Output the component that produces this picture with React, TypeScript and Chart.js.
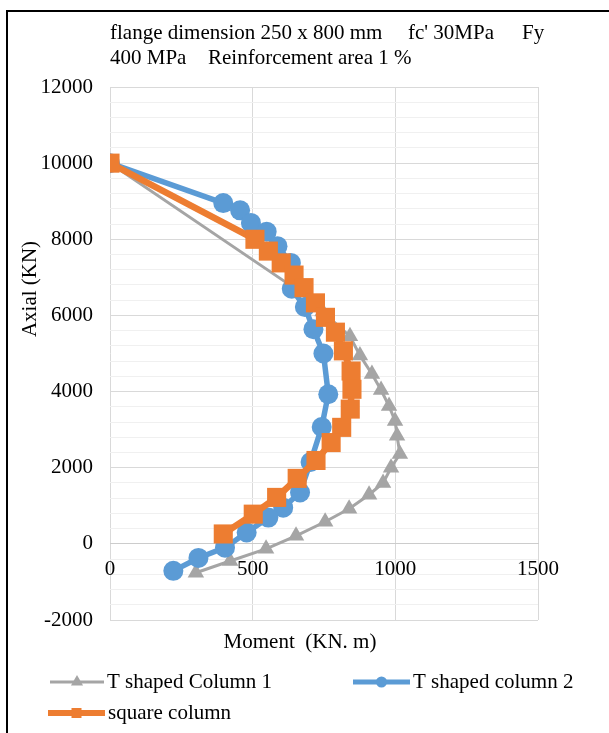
import React, { useEffect, useRef } from "react";
import { Chart, registerables } from "chart.js";

Chart.register(...registerables);

const FONT = '"Liberation Serif", "Times New Roman", serif';

const titleLine1 = ["flange dimension 250 x 800 mm", "fc' 30MPa", "Fy"];
const titleLine2 = ["400 MPa", "Reinforcement area 1 %"];
const xAxisTitle = "Moment  (KN. m)";
const yAxisTitle = "Axial (KN)";

const seriesNames = ["T shaped Column 1", "T shaped column 2", "square column"];
const seriesColors = ["#A5A5A5", "#5B9BD5", "#ED7D31"];

const grayMoment = [0, 640, 745, 841, 876, 918, 950, 978, 999, 1006, 1016, 985, 957, 908, 838, 754, 652, 547, 421, 301];
const grayAxial = [10000, 6750, 6100, 5450, 4950, 4460, 4040, 3620, 3230, 2840, 2360, 2000, 1600, 1290, 920, 580, 210, -130, -450, -760];

const blueMoment = [0, 397, 456, 494, 549, 587, 634, 637, 683, 713, 748, 765, 742, 703, 666, 607, 555, 479, 403, 310, 222];
const blueAxial = [10000, 8950, 8760, 8430, 8200, 7820, 7380, 6700, 6220, 5640, 5000, 3930, 3070, 2150, 1350, 950, 690, 300, -100, -370, -709];

const orangeMoment = [0, 508, 555, 600, 645, 680, 720, 755, 790, 818, 845, 848, 842, 812, 775, 722, 656, 584, 502, 397];
const orangeAxial = [10000, 8000, 7690, 7380, 7060, 6730, 6330, 5950, 5560, 5070, 4540, 4060, 3540, 3060, 2660, 2190, 1720, 1220, 780, 260];

const xMin = 0, xMax = 1500, xStep = 500;
const yMin = -2000, yMax = 12000, yMajor = 2000, yMinor = 400;

const toPoints = (xs: number[], ys: number[]) => xs.map((x, i) => ({ x, y: ys[i] }));

const decorPlugin = {
  id: "decor",
  beforeDraw(chart: any) {
    const ctx = chart.ctx;
    ctx.save();
    ctx.fillStyle = "#ffffff";
    ctx.fillRect(0, 0, chart.width, chart.height);
    ctx.restore();
  },
  afterDraw(chart: any) {
    const ctx = chart.ctx;
    ctx.save();
    // frame
    ctx.strokeStyle = "#000000";
    ctx.lineWidth = 2;
    ctx.beginPath();
    ctx.moveTo(7, chart.height);
    ctx.lineTo(7, 11);
    ctx.lineTo(chart.width, 11);
    ctx.stroke();

    ctx.fillStyle = "#000000";
    ctx.font = `21px ${FONT}`;
    ctx.textBaseline = "middle";
    ctx.textAlign = "left";
    // title
    ctx.fillText(titleLine1[0], 110, 33);
    ctx.fillText(titleLine1[1], 408, 33);
    ctx.fillText(titleLine1[2], 522, 33);
    ctx.fillText(titleLine2[0], 110, 58);
    ctx.fillText(titleLine2[1], 208, 58);

    // x axis title
    ctx.textAlign = "center";
    ctx.fillText(xAxisTitle, 300, 642);

    // y axis title
    ctx.save();
    ctx.translate(30, 289);
    ctx.rotate(-Math.PI / 2);
    ctx.fillText(yAxisTitle, 0, 0);
    ctx.restore();

    // legend
    const drawLegend = (i: number, x0: number, x1: number, y: number, lw: number, style: string, r: number, tx: number) => {
      ctx.strokeStyle = seriesColors[i];
      ctx.fillStyle = seriesColors[i];
      ctx.lineWidth = lw;
      ctx.beginPath();
      ctx.moveTo(x0, y);
      ctx.lineTo(x1, y);
      ctx.stroke();
      const cx = (x0 + x1) / 2;
      ctx.beginPath();
      if (style === "triangle") {
        ctx.moveTo(cx, y - r);
        ctx.lineTo(cx + r * 0.866, y + r * 0.5);
        ctx.lineTo(cx - r * 0.866, y + r * 0.5);
        ctx.closePath();
      } else if (style === "circle") {
        ctx.arc(cx, y, r, 0, Math.PI * 2);
      } else {
        ctx.rect(cx - r, y - r, 2 * r, 2 * r);
      }
      ctx.fill();
      ctx.fillStyle = "#000000";
      ctx.textAlign = "left";
      ctx.fillText(seriesNames[i], tx, y);
    };
    drawLegend(0, 50, 104, 682, 3, "triangle", 7, 107);
    drawLegend(1, 353, 410, 682, 5, "circle", 5.5, 413);
    drawLegend(2, 48, 105, 713, 6, "rect", 5, 108);
    ctx.restore();
  },
};

export default function App() {
  const ref = useRef<HTMLCanvasElement | null>(null);

  useEffect(() => {
    if (!ref.current) return;
    const chart = new Chart(ref.current, {
      type: "scatter",
      data: {
        datasets: [
          {
            label: seriesNames[0],
            data: toPoints(grayMoment, grayAxial),
            showLine: true,
            borderColor: seriesColors[0],
            backgroundColor: seriesColors[0],
            pointBackgroundColor: seriesColors[0],
            pointBorderWidth: 0,
            borderWidth: 3,
            pointStyle: "triangle",
            pointRadius: 9.5,
            order: 2,
          },
          {
            label: seriesNames[1],
            data: toPoints(blueMoment, blueAxial),
            showLine: true,
            borderColor: seriesColors[1],
            backgroundColor: seriesColors[1],
            pointBackgroundColor: seriesColors[1],
            pointBorderWidth: 0,
            borderWidth: 5.5,
            pointStyle: "circle",
            pointRadius: 10,
            order: 1,
          },
          {
            label: seriesNames[2],
            data: toPoints(orangeMoment, orangeAxial),
            showLine: true,
            borderColor: seriesColors[2],
            backgroundColor: seriesColors[2],
            pointBackgroundColor: seriesColors[2],
            pointBorderWidth: 0,
            borderWidth: 6.5,
            pointStyle: "rect",
            pointRadius: 13.5,
            order: 0,
          },
        ],
      },
      options: {
        responsive: false,
        devicePixelRatio: 1,
        animation: false,
        events: [],
        layout: { padding: { top: 87, right: 71, bottom: 113, left: 0 } },
        plugins: {
          legend: { display: false },
          title: { display: false },
          tooltip: { enabled: false },
        },
        scales: {
          x: {
            type: "linear",
            min: xMin,
            max: xMax,
            position: { y: 0 } as any,
            ticks: {
              stepSize: xStep,
              color: "#000000",
              font: { family: FONT, size: 21 },
              padding: 13,
              maxRotation: 0,
              callback: (v: any) => String(v),
            },
            grid: { color: "#d9d9d9", lineWidth: 1, drawTicks: false },
            border: { display: true, color: "#cccccc", width: 1 },
          },
          y: {
            type: "linear",
            min: yMin,
            max: yMax,
            afterFit: (scale: any) => {
              scale.width = 110;
            },
            ticks: {
              stepSize: yMinor,
              autoSkip: false,
              color: "#000000",
              font: { family: FONT, size: 21 },
              padding: 17,
              callback: (v: any) => (Number(v) % yMajor === 0 ? String(v) : ""),
            },
            grid: {
              color: (c: any) => (c.tick && c.tick.value % yMajor === 0 ? "#d9d9d9" : "#f0f0f0"),
              lineWidth: 1,
              drawTicks: false,
            },
            border: { display: false },
          },
        },
      },
      plugins: [decorPlugin],
    });
    return () => chart.destroy();
  }, []);

  return (
    <div style={{ position: "absolute", left: 0, top: 0, width: 609, height: 733 }}>
      <canvas ref={ref} width={609} height={733} style={{ width: 609, height: 733, display: "block" }} />
    </div>
  );
}
